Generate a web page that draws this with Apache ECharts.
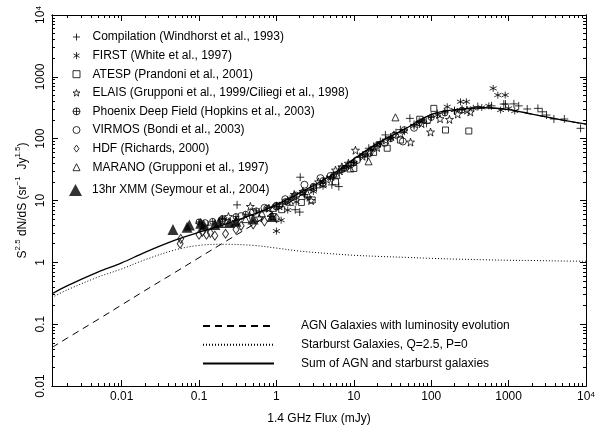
<!DOCTYPE html>
<html><head><meta charset="utf-8">
<script src="https://cdn.jsdelivr.net/npm/echarts@6/dist/echarts.min.js"></script>
<style>html,body{margin:0;padding:0;background:#fff}#c{width:601px;height:430px}</style>
</head><body><div id="c"></div>
<script>
// ---------- axis ranges and tick labels ----------
const xMin = Math.pow(10, -2.9), xMax = 10000;
const yMin = 0.01, yMax = 10000;
const xMajor = [0.01, 0.1, 1, 10, 100, 1000, 10000];
const xTickLabels = ['0.01', '0.1', '1', '10', '100', '1000', '10{sup|4}'];
const yMajor = [0.01, 0.1, 1, 10, 100, 1000, 10000];
const yTickLabels = ['0.01', '0.1', '1', '10', '100', '1000', '10{sup|4}'];

// ---------- model curves ----------
const curveFlux = [0.00126, 0.002, 0.005, 0.01, 0.02, 0.05, 0.1, 0.2, 0.5, 1, 2, 5, 10, 20, 50, 100, 200, 500, 1000, 2000, 5000, 10000];
const agnCurve = [0.042, 0.060, 0.12, 0.205, 0.35, 0.70, 1.19, 2.02, 4.07, 6.9, 11.8, 23.8, 45.7, 81.7, 152, 245, 292, 315, 294, 249, 199, 171];
const starburstCurve = [0.27, 0.36, 0.58, 0.78, 1.1, 1.6, 1.88, 1.96, 1.88, 1.7, 1.52, 1.38, 1.3, 1.25, 1.2, 1.16, 1.13, 1.1, 1.08, 1.07, 1.05, 1.04];
const sumCurve = [0.31, 0.42, 0.70, 0.98, 1.45, 2.3, 3.07, 3.98, 5.95, 8.6, 13.3, 25.2, 47, 83, 153, 246, 293, 316, 295, 250, 200, 172];

// ---------- observed counts [flux mJy, S^2.5 dN/dS] ----------
const compilation = [[0.1,4.3],[0.13,4.0],[0.2,5.0],[0.31,8.5],[0.45,5.8],[0.6,6.5],[0.85,5.5],[1.0,8.0],[1.2,9.0],[1.5,10.5],[1.75,7.1],[2.0,6.5],[2.03,23.8],[2.3,12.5],[2.8,15],[3.3,16],[4.0,19],[5.2,17.9],[6.4,16.8],[5.5,24],[7,30],[8.5,36],[10,42],[12,50],[15,51],[15.6,70],[18,75],[22,90],[25.6,115],[30,105],[35,125],[40,140],[53,213],[60,170],[70,190],[87,177],[100,230],[120,255],[150,270],[200,280],[250,300],[400,330],[600,340],[867,363],[912,363],[1170,365],[1350,339],[1740,302],[2390,309],[2720,272],[3090,241],[3850,208],[5250,208],[8500,147]];
const first = [[1.0,3.2],[1.15,4.8],[1.4,7],[1.8,9.5],[2.5,11],[3,14],[4,17],[5,23],[6.5,28],[8,35],[10,40],[13,55],[17,66],[22,82],[30,100],[45,130],[60,160],[80,200],[120,240],[161,328],[200,290],[239,395],[285,395],[350,310],[450,320],[555,339],[632,650],[726,507],[904,507],[788,290],[1000,309],[1200,280]];
const atesp = [[0.9,5.5],[1.17,7.1],[2.1,9.3],[2.9,10.2],[5.8,20],[10,33],[18,60],[27,70],[40,95],[71,206],[108,309],[153,138],[306,133]];
const elais = [[0.2,4.7],[0.24,5.5],[0.3,4.6],[0.46,8.0],[0.6,5.2],[0.8,7.5],[1.1,8.2],[1.4,9.8],[1.7,12.5],[2.2,14],[2.8,10],[3.5,20],[4.5,22],[5.8,31],[7,35],[8.5,40],[10.5,65],[13,52],[16,62],[20,72],[26,95],[33,115],[40,120],[54,88],[75,175],[98,128],[130,210],[172,205],[220,250],[290,290],[320,270]];
const phoenix = [[0.1,4.5],[0.15,4.6],[0.2,5.1],[0.3,5.5],[0.4,6.0],[0.55,6.8],[0.75,7.5],[1.0,8.4],[1.3,9.6],[1.7,11.5],[2.2,13.5],[3,17],[4,21],[5.5,26],[7.5,33],[10,41],[14,56],[20,78],[30,100],[45,140],[70,180],[100,220],[150,260],[250,290]];
const virmos = [[0.12,4.3],[0.2,4.8],[0.35,5.6],[0.5,6.5],[0.7,7.6],[1.0,8.0],[1.3,10.5],[1.8,12],[2.3,18],[3.0,16],[3.7,23],[5,25],[7,32],[9,38],[11,45],[16,60],[25,85],[43,90],[60,150],[90,200]];
const hdf = [[0.057,2.0],[0.058,2.4],[0.1,2.8],[0.11,3.1],[0.125,2.8],[0.14,3.0],[0.16,2.7],[0.22,2.9],[0.3,3.4],[0.35,3.9],[0.5,4.1],[0.7,4.6],[1.0,5.2]];
const marano = [[0.4,5.0],[0.65,6.2],[0.9,7.6],[1.5,9.5],[2.5,13],[4,19],[6,26],[9,33],[15.5,43],[34.5,221]];
const xmm = [[0.046,3.4],[0.07,3.7],[0.075,4.0],[0.105,4.3],[0.115,4.0],[0.16,4.1],[0.18,4.4],[0.245,4.4],[0.3,4.6],[0.5,5.0],[0.88,5.5]];

const surveyNames = ['Compilation (Windhorst et al., 1993)', 'FIRST (White et al., 1997)', 'ATESP (Prandoni et al., 2001)',
  'ELAIS (Grupponi et al., 1999/Ciliegi et al., 1998)', 'Phoenix Deep Field (Hopkins et al., 2003)', 'VIRMOS (Bondi et al., 2003)',
  'HDF (Richards, 2000)', 'MARANO (Grupponi et al., 1997)'];
const xmmName = '13hr XMM (Seymour et al., 2004)';
const modelNames = ['AGN Galaxies with luminosity evolution', 'Starburst Galaxies, Q=2.5, P=0', 'Sum of AGN and starburst galaxies'];

// ---------- helpers ----------
function zip(xs, ys) { return xs.map((x, i) => [x, ys[i]]); }
function minorTicks(lo, hi) {
  const out = [];
  for (let k = -4; k <= 4; k++) for (let m = 2; m <= 9; m++) {
    const v = parseFloat((m * Math.pow(10, k)).toPrecision(6));
    if (v > lo && v < hi) out.push(v);
  }
  return out;
}
function labelFor(list, labels) {
  return function (v) {
    const e = Math.round(Math.log10(v));
    const i = list.findIndex(t => Math.round(Math.log10(t)) === e);
    return i >= 0 ? labels[i] : '';
  };
}
const FONT = 'Liberation Sans';

function axis(kind, pos, major, isMajor, withLabels, lo, hi) {
  const ticks = isMajor ? major : minorTicks(lo, hi);
  const a = {
    type: 'log', logBase: 10, min: lo, max: hi, position: pos, gridIndex: 0,
    axisLine: { show: true, onZero: false, lineStyle: { color: '#000', width: 1 } },
    axisTick: { show: true, inside: true, length: isMajor ? 6 : 3, customValues: ticks, lineStyle: { color: '#000', width: 1 } },
    axisLabel: { show: false },
    splitLine: { show: false }, minorTick: { show: false }, minorSplitLine: { show: false },
    silent: true, z: 5
  };
  if (withLabels) {
    a.axisLabel = {
      show: true, customValues: major, color: '#000', fontFamily: FONT, fontSize: 12,
      formatter: labelFor(major, kind === 'x' ? xTickLabels : yTickLabels),
      rich: { sup: { fontSize: 8, lineHeight: 8, verticalAlign: 'top', fontFamily: FONT, color: '#000' } },
      margin: 5, showMinLabel: true, showMaxLabel: true, hideOverlap: false
    };
    if (kind === 'y') a.axisLabel.rotate = 90;
  }
  return a;
}

const xAxes = [
  axis('x', 'bottom', xMajor, true, true, xMin, xMax),
  axis('x', 'bottom', xMajor, false, false, xMin, xMax),
  axis('x', 'top', xMajor, true, false, xMin, xMax),
  axis('x', 'top', xMajor, false, false, xMin, xMax)
];
xAxes[0].name = '1.4 GHz Flux (mJy)';
xAxes[0].nameLocation = 'middle';
xAxes[0].nameGap = 27;
xAxes[0].nameMoveOverlap = false;
xAxes[0].nameTextStyle = { color: '#000', fontFamily: FONT, fontSize: 12 };

const yAxes = [
  axis('y', 'left', yMajor, true, true, yMin, yMax),
  axis('y', 'left', yMajor, false, false, yMin, yMax),
  axis('y', 'right', yMajor, true, false, yMin, yMax),
  axis('y', 'right', yMajor, false, false, yMin, yMax)
];
yAxes[0].name = '{n|S}{s|2.5}{n| dN/dS (sr}{s|\u22121}{n|  Jy}{s|1.5}{n|)}';
yAxes[0].nameLocation = 'middle';
yAxes[0].nameRotate = 90;
yAxes[0].nameGap = 20;
yAxes[0].nameMoveOverlap = false;
yAxes[0].nameTextStyle = {
  color: '#000', fontFamily: FONT, fontSize: 12,
  rich: {
    n: { fontSize: 12, lineHeight: 18, fontFamily: FONT, color: '#000' },
    s: { fontSize: 8, lineHeight: 8, verticalAlign: 'top', fontFamily: FONT, color: '#000' }
  }
};

const open = { color: 'transparent', borderColor: '#000', borderWidth: 1 };
const PLUS = 'path://M0,5L10,5M5,0L5,10';
const ASTER = 'path://M5,0L5,10M0.67,2.5L9.33,7.5M0.67,7.5L9.33,2.5';
const STAR = 'path://M5,0L6.18,3.38L9.76,3.45L6.9,5.62L7.94,9.05L5,7L2.06,9.05L3.1,5.62L0.24,3.45L3.82,3.38Z';
const PHX = 'path://M0,5A5,5,0,1,1,10,5A5,5,0,1,1,0,5ZM0,5L10,5M5,0L5,10';
const DIAM = 'path://M5,0L10,7L5,14L0,7Z';

function sc(name, data, symbol, size, style) {
  return { name, type: 'scatter', data, symbol, symbolSize: size, itemStyle: style, xAxisIndex: 0, yAxisIndex: 0,
    emphasis: { disabled: true }, z: 3 };
}
function ln(name, data, type, width) {
  return { name, type: 'line', data, showSymbol: false, symbol: 'none', smooth: 0.35,
    lineStyle: { color: '#000', width, type }, itemStyle: { color: '#000' },
    xAxisIndex: 0, yAxisIndex: 0, emphasis: { disabled: true }, z: 2 };
}

const option = {
  animation: false,
  backgroundColor: '#fff',
  grid: { left: 52, right: 15, top: 15, bottom: 44, containLabel: false },
  xAxis: xAxes,
  yAxis: yAxes,
  legend: [
    {
      data: surveyNames, orient: 'vertical', left: 67.5, top: 25, itemWidth: 7, itemHeight: 7, itemGap: 4.6,
      textStyle: { color: '#000', fontFamily: FONT, fontSize: 12, lineHeight: 14, padding: [0, 0, 0, 7.5] },
      itemStyle: { borderWidth: 1 }, selectedMode: false
    },
    {
      data: [xmmName], orient: 'vertical', left: 64, top: 178, itemWidth: 13, itemHeight: 12,
      textStyle: { color: '#000', fontFamily: FONT, fontSize: 12, lineHeight: 14, padding: [0, 0, 0, 5] },
      selectedMode: false
    },
    {
      data: modelNames, orient: 'vertical', left: 197, top: 314, itemWidth: 71, itemHeight: 14, itemGap: 4.7,
      textStyle: { color: '#000', fontFamily: FONT, fontSize: 12, lineHeight: 14, padding: [0, 0, 0, 22] },
      itemStyle: { opacity: 0 },
      selectedMode: false
    }
  ],
  series: [
    ln(modelNames[0], zip(curveFlux, agnCurve), [7, 5], 1),
    ln(modelNames[1], zip(curveFlux, starburstCurve), [1, 2], 1),
    ln(modelNames[2], zip(curveFlux, sumCurve), 'solid', 1.3),
    sc(surveyNames[0], compilation, PLUS, 8, open),
    sc(surveyNames[1], first, ASTER, 7, open),
    sc(surveyNames[2], atesp, 'rect', 6, open),
    sc(surveyNames[3], elais, STAR, 8, open),
    sc(surveyNames[4], phoenix, PHX, 6, open),
    sc(surveyNames[5], virmos, 'circle', 7, open),
    sc(surveyNames[6], hdf, DIAM, [6, 9], open),
    sc(surveyNames[7], marano, 'triangle', 7, open),
    sc(xmmName, xmm, 'triangle', 11, { color: '#000', borderColor: '#000', borderWidth: 0 })
  ]
};

const chart = echarts.init(document.getElementById('c'), null, { renderer: 'canvas' });
chart.setOption(option);
</script>
</body></html>
